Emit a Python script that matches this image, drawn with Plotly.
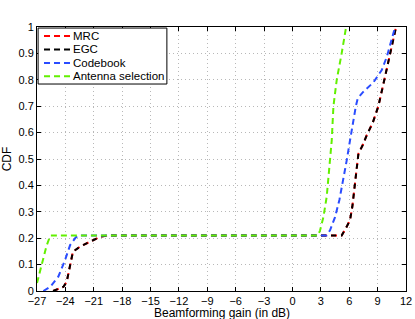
import plotly.graph_objects as go

# ---- data ----
mrc_x = [-25.3, -24.2, -23.86, -23.5, -23.2, -22.45, -21.4, -20.3, -19.5,
         5.2, 5.74, 6.09, 6.33, 6.54, 6.8, 6.97, 7.43, 7.85, 8.49, 9.08, 9.71, 10.32, 10.95]
mrc_y = [0.0, 0.016, 0.035, 0.092, 0.149, 0.168, 0.187, 0.206, 0.21,
         0.21, 0.244, 0.27, 0.32, 0.395, 0.47, 0.52, 0.553, 0.59, 0.638, 0.70, 0.80, 0.90, 1.0]

egc_x = list(mrc_x)
egc_y = list(mrc_y)

codebook_x = [-26.33, -25.6, -24.75, -24.04, -23.5, -22.9, -22.5,
              3.6, 3.97, 4.5, 4.96, 5.38, 5.74, 6.09, 6.44, 6.7, 6.9, 7.5, 8.55, 9.44, 9.97, 10.39, 10.85]
codebook_y = [0.0, 0.016, 0.054, 0.117, 0.174, 0.203, 0.21,
              0.21, 0.23, 0.28, 0.345, 0.42, 0.496, 0.572, 0.648, 0.70, 0.73, 0.755, 0.79, 0.837, 0.887, 0.938, 1.0]

antsel_x = [-27.0, -26.5, -26.0, -25.6, 2.7, 2.92, 3.27, 3.62, 3.9, 4.15, 4.33, 4.68, 5.2, 5.67]
antsel_y = [0.03, 0.10, 0.17, 0.21, 0.21, 0.23, 0.28, 0.357, 0.458, 0.57, 0.70, 0.80, 0.90, 1.0]

names = ["MRC", "EGC", "Codebook", "Antenna selection"]
xticks = [-27, -24, -21, -18, -15, -12, -9, -6, -3, 0, 3, 6, 9, 12]
yticks = [0, 0.1, 0.2, 0.3, 0.4, 0.5, 0.6, 0.7, 0.8, 0.9, 1]
x_title = "Beamforming gain (in dB)"
y_title = "CDF"

# ---- styles ----
colors = ["#ff0000", "#000000", "#2a4cff", "#62f000"]
dashes = ["6px,4px", "5px,5px", "6px,4px", "6px,4px"]

series = [(mrc_x, mrc_y), (egc_x, egc_y), (codebook_x, codebook_y), (antsel_x, antsel_y)]

fig = go.Figure()
for (xs, ys), name, c, d in zip(series, names, colors, dashes):
    fig.add_trace(go.Scatter(x=xs, y=ys, mode="lines", name=name, showlegend=False,
                             hoverinfo="skip", line=dict(color=c, width=2, dash=d)))

fam = "Liberation Sans, Arial, sans-serif"
font = dict(family=fam, size=11, color="black")
title_font = dict(family=fam, size=12, color="black")
leg_font = dict(family=fam, size=11.5, color="black")
axis_common = dict(showline=True, linecolor="black", linewidth=1, mirror="ticks",
                   ticks="inside", ticklen=4, tickcolor="black", automargin=False,
                   showgrid=True, gridcolor="#b8b8b8", griddash="1px,3px", gridwidth=1,
                   zeroline=False, tickfont=font)

# ---- legend box (compact, MATLAB-like), placed in axes-fraction coordinates ----
leg_x0, leg_x1, leg_y0, leg_y1 = 0.003, 0.352, 0.784, 0.996
row_y = [0.966, 0.915, 0.864, 0.813]
line_x0, line_x1, text_x = 0.019, 0.095, 0.096

shapes = [dict(type="rect", xref="x domain", yref="y domain",
               x0=leg_x0, x1=leg_x1, y0=leg_y0, y1=leg_y1,
               line=dict(color="black", width=1), fillcolor="white", layer="above")]
annotations = []
for name, c, d, ry in zip(names, colors, dashes, row_y):
    shapes.append(dict(type="line", xref="x domain", yref="y domain",
                       x0=line_x0, x1=line_x1, y0=ry, y1=ry, layer="above",
                       line=dict(color=c, width=2, dash="6px,4px")))
    annotations.append(dict(text=name, xref="x domain", yref="y domain",
                            x=text_x, y=ry, xanchor="left", yanchor="middle",
                            showarrow=False, font=leg_font, borderpad=0))

# x-axis title placed just below the tick labels
annotations.append(dict(text=x_title, xref="x domain", yref="y domain",
                        x=0.5, y=-0.083, xanchor="center", yanchor="middle",
                        showarrow=False, font=title_font, borderpad=0))

fig.update_layout(
    width=415, height=319,
    margin=dict(l=37, r=9, t=27, b=28),
    paper_bgcolor="white", plot_bgcolor="white",
    font=font,
    showlegend=False,
    shapes=shapes, annotations=annotations,
    xaxis=dict(range=[-27, 12], tickvals=xticks, ticktext=[str(v).replace("-", "\u2212") for v in xticks],
               **axis_common),
    yaxis=dict(range=[0, 1], tickvals=yticks, ticktext=[f"{v:g}" for v in yticks],
               title=dict(text=y_title, font=title_font, standoff=6), **axis_common),
)

fig.write_html("out.html", config={"displayModeBar": False},
               post_script="document.body.style.margin='0';document.body.style.padding='0';")
